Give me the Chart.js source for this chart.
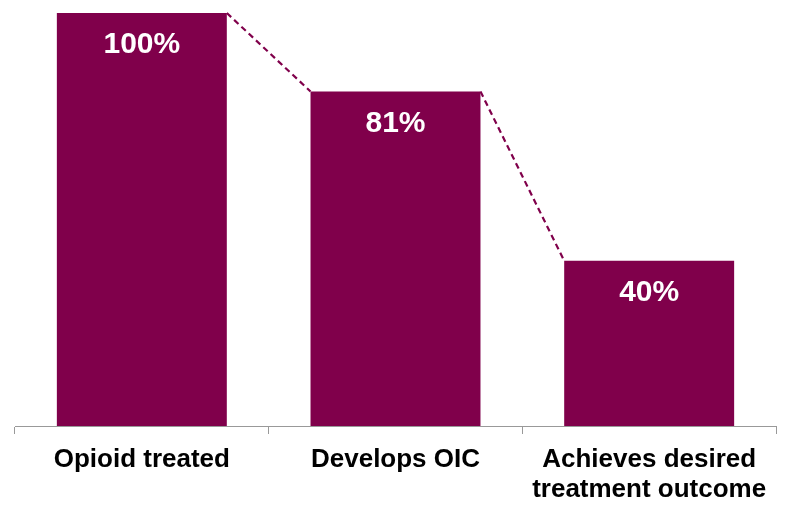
<!DOCTYPE html>
<html>
<head>
<meta charset="utf-8">
<script src="https://cdn.jsdelivr.net/npm/chart.js@4.4.0/dist/chart.umd.min.js"></script>
<style>
  html, body { margin: 0; padding: 0; background: #fff; }
  #wrap { width: 788px; height: 505px; position: relative; }
</style>
</head>
<body>
<div id="wrap"><canvas id="funnel"></canvas></div>
<script>
// steps of the patient funnel
const categories = [
  "Opioid treated",
  "Develops OIC",
  ["Achieves desired", "treatment outcome"]
];
const percentages = [100, 81, 40];

const barColor = "#80004B";

// white % text inside each bar + dashed links between the bar tops
const funnelDecor = {
  id: "funnelDecor",
  afterDatasetsDraw(chart) {
    const ctx = chart.ctx;
    const bars = chart.getDatasetMeta(0).data;

    ctx.save();
    ctx.strokeStyle = barColor;
    ctx.lineWidth = 2.2;
    ctx.setLineDash([6, 4]);
    for (let i = 0; i < bars.length - 1; i++) {
      const a = bars[i], b = bars[i + 1];
      ctx.beginPath();
      ctx.moveTo(a.x + a.width / 2, a.y);
      ctx.lineTo(b.x - b.width / 2, b.y);
      ctx.stroke();
    }
    ctx.restore();

    ctx.save();
    ctx.fillStyle = "#fff";
    ctx.font = "bold 30px 'Liberation Sans', Arial, sans-serif";
    ctx.textAlign = "center";
    ctx.textBaseline = "middle";
    bars.forEach((bar, i) => {
      ctx.fillText(percentages[i] + "%", bar.x, bar.y + 32);
    });
    ctx.restore();
  }
};

new Chart(document.getElementById("funnel"), {
  type: "bar",
  data: {
    labels: categories,
    datasets: [{
      data: percentages,
      backgroundColor: barColor,
      borderWidth: 0,
      categoryPercentage: 1,
      barPercentage: 0.67
    }]
  },
  options: {
    responsive: true,
    maintainAspectRatio: false,
    animation: false,
    layout: { padding: { left: 15, right: 12, top: 13, bottom: 0 } },
    plugins: {
      legend: { display: false },
      tooltip: { enabled: false }
    },
    scales: {
      y: { display: false, min: 0, max: 100 },
      x: {
        afterFit: s => { s.height = 79; },
        border: { display: true, color: "#999", width: 1 },
        grid: {
          display: true,
          offset: true,
          drawOnChartArea: false,
          drawTicks: true,
          tickLength: 8,
          color: "#999"
        },
        ticks: {
          color: "#000",
          padding: 10,
          maxRotation: 0,
          font: { family: "'Liberation Sans', Arial, sans-serif", size: 26, weight: "bold", lineHeight: 1.18 }
        }
      }
    }
  },
  plugins: [funnelDecor]
});
</script>
</body>
</html>
